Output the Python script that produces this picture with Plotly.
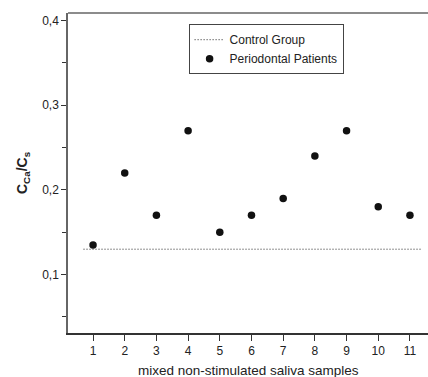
import plotly.graph_objects as go

samples = [1, 2, 3, 4, 5, 6, 7, 8, 9, 10, 11]
patients = [0.135, 0.22, 0.17, 0.27, 0.15, 0.17, 0.19, 0.24, 0.27, 0.18, 0.17]
control_x = [0.7, 11.35]
control_y = [0.13, 0.13]
y_ticks = [0.1, 0.2, 0.3, 0.4]
y_ticklabels = ["0,1", "0,2", "0,3", "0,4"]

fig = go.Figure()
fig.add_trace(go.Scatter(x=control_x, y=control_y, mode="lines", name="Control Group",
                         line=dict(color="#222", width=1, dash="1px,2px")))
fig.add_trace(go.Scatter(x=samples, y=patients, mode="markers", name="Periodontal Patients",
                         marker=dict(color="#111", size=7.5)))

fig.update_layout(
    width=428, height=377,
    margin=dict(l=68, r=0, t=13, b=44),
    paper_bgcolor="white", plot_bgcolor="white",
    font=dict(family="Liberation Sans, Arial, sans-serif", size=12, color="#222"),
    showlegend=True,
    legend=dict(x=0.335, y=0.965, xanchor="left", yanchor="top",
                bordercolor="#444", borderwidth=1, bgcolor="white",
                font=dict(size=12), tracegroupgap=0, itemwidth=30),
    xaxis=dict(range=[0.21, 11.57], tickvals=samples, ticks="outside", ticklen=6,
               tickcolor="#333", showgrid=False, zeroline=False, showline=True,
               linecolor="#333", linewidth=1.5, automargin=False,
               tickfont=dict(size=12)),
    yaxis=dict(range=[0.031, 0.409], tickvals=y_ticks, ticktext=y_ticklabels,
               ticks="outside", ticklen=5, tickcolor="#333",
               minor=dict(tickvals=[0.05, 0.15, 0.25, 0.35], ticks="outside", ticklen=4, tickcolor="#333"),
               showgrid=False, zeroline=False, showline=True, linecolor="#666", linewidth=1.5,
               automargin=False, tickfont=dict(size=12)),
)
fig.add_shape(type="line", xref="paper", yref="paper", x0=0, x1=1, y0=1, y1=1,
              line=dict(color="#666", width=1.5))
fig.add_annotation(text="mixed non-stimulated saliva samples", xref="paper", yref="paper",
                   x=0.5, y=-0.117, xanchor="center", yanchor="middle", showarrow=False,
                   font=dict(size=13.5))
fig.add_annotation(text="<b>C<sub>Ca</sub>/C<sub>s</sub></b>", xref="paper", yref="paper",
                   x=-0.125, y=0.5, xanchor="center", yanchor="middle", showarrow=False,
                   textangle=-90, font=dict(size=14))

fig.write_html("out.html", post_script="document.body.style.margin='0';",
               config={"displayModeBar": False})
